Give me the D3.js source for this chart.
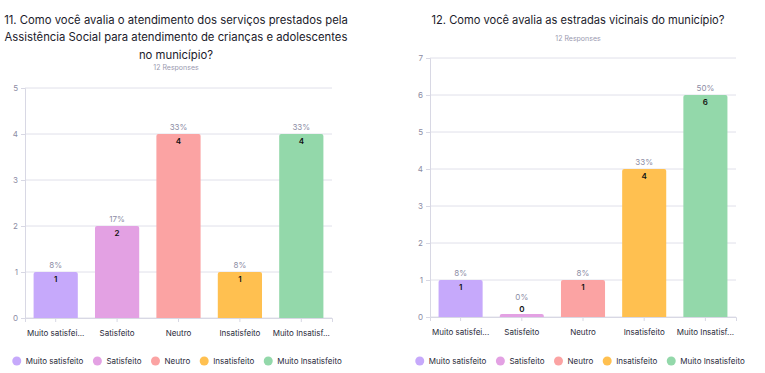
<!DOCTYPE html>
<html>
<head>
<meta charset="utf-8">
<script src="https://cdn.jsdelivr.net/npm/d3@7"></script>
<style>
  body { margin: 0; background: #fff; }
  text { font-family: Inter, "Noto Sans", sans-serif; }
</style>
</head>
<body>
<div id="chartDiv"></div>
<script>
// data
var categories = ["Muito satisfeito", "Satisfeito", "Neutro", "Insatisfeito", "Muito Insatisfeito"];
var shortLabels = ["Muito satisfei...", "Satisfeito", "Neutro", "Insatisfeito", "Muito Insatisf..."];
var colorsList = ["#c6a9fb", "#e3a1e3", "#fba3a3", "#ffc050", "#93d8aa"];

var title1 = ["11. Como você avalia o atendimento dos serviços prestados pela",
              "Assistência Social para atendimento de crianças e adolescentes",
              "no município?"];
var values1 = [1, 2, 4, 1, 4];
var percents1 = ["8%", "17%", "33%", "8%", "33%"];
var yTicks1 = [0, 1, 2, 3, 4, 5];

var title2 = ["12. Como você avalia as estradas vicinais do município?"];
var values2 = [1, 0, 1, 4, 6];
var percents2 = ["8%", "0%", "8%", "33%", "50%"];
var yTicks2 = [0, 1, 2, 3, 4, 5, 6, 7];

var responses = "12 Responses";

var svg = d3.select("#chartDiv").append("svg")
    .attr("width", 765)
    .attr("height", 373);

function drawChart(opt) {
  var g = svg.append("g").attr("class", "panel");

  // title, shrunk to the width seen in the picture
  var titles = g.selectAll(".title").data(opt.title).enter()
    .append("text").attr("class", "title")
    .attr("x", opt.cx)
    .attr("y", function(d, i){ return opt.titleY + i * 17.5; })
    .attr("text-anchor", "middle")
    .attr("dy", "0.35em")
    .style("font-size", "12px")
    .style("fill", "#1b1b2b")
    .text(function(d){ return d; });
  var widest = d3.max(titles.nodes(), function(n){ return n.getComputedTextLength(); });
  titles.style("font-size", (12 * opt.titleW / widest) + "px");

  g.append("text")
    .attr("x", opt.cx)
    .attr("y", opt.respY)
    .attr("text-anchor", "middle")
    .attr("dy", "0.35em")
    .style("font-size", "7px")
    .style("fill", "#9a9ab0")
    .text(responses);

  var x = d3.scaleBand()
    .domain(categories)
    .range([opt.left, opt.right])
    .paddingInner(0.28)
    .paddingOuter(0.14);

  var y = d3.scaleLinear()
    .domain([0, d3.max(opt.ticks)])
    .range([opt.bottom, opt.top]);

  // grid
  g.append("g").selectAll("line").data(opt.ticks).enter()
    .append("line")
    .attr("x1", opt.left).attr("x2", opt.right)
    .attr("y1", function(d){ return y(d); })
    .attr("y2", function(d){ return y(d); })
    .style("stroke", "#e0e0ea")
    .style("stroke-width", 1);

  // y axis
  var yAxis = g.append("g")
    .attr("transform", "translate(" + opt.left + ",0)")
    .call(d3.axisLeft(y).tickValues(opt.ticks).tickFormat(d3.format("d")).tickSize(4).tickPadding(3));
  yAxis.select(".domain").style("stroke", "#d8d8e4");
  yAxis.selectAll(".tick line").style("stroke", "#d8d8e4");
  yAxis.selectAll(".tick text").style("font-size", "8px").style("fill", "#8c8ca4")
    .style("font-family", "Inter, sans-serif");

  // x axis
  var xAxis = g.append("g")
    .attr("transform", "translate(0," + opt.bottom + ")")
    .call(d3.axisBottom(x).tickSize(4).tickPadding(8).tickFormat(function(d, i){ return shortLabels[i]; }));
  xAxis.select(".domain").style("stroke", "#d8d8e4");
  xAxis.selectAll(".tick line").style("stroke", "#d8d8e4");
  xAxis.selectAll(".tick text").style("font-size", "8px").style("fill", "#2a2a3a")
    .style("font-family", "Inter, sans-serif");

  // bars
  var bars = g.append("g").selectAll(".bar").data(opt.values).enter();
  bars.append("path")
    .attr("class", "bar")
    .attr("d", function(d, i){
      var x0 = x(categories[i]), w = x.bandwidth();
      var y0 = Math.min(y(d), opt.bottom - 3), r = 2;
      return "M" + x0 + "," + opt.bottom +
        "V" + (y0 + r) + "Q" + x0 + "," + y0 + " " + (x0 + r) + "," + y0 +
        "H" + (x0 + w - r) + "Q" + (x0 + w) + "," + y0 + " " + (x0 + w) + "," + (y0 + r) +
        "V" + opt.bottom + "Z";
    })
    .attr("fill", function(d, i){ return colorsList[i]; });

  // percent labels
  bars.append("text")
    .attr("x", function(d, i){ return x(categories[i]) + x.bandwidth() / 2; })
    .attr("y", function(d){ return d === 0 ? y(d) - 20 : y(d) - 7; })
    .attr("text-anchor", "middle")
    .attr("dy", "0.35em")
    .style("font-size", "8px")
    .style("fill", "#8c8ca4")
    .text(function(d, i){ return opt.percents[i]; });

  // count labels
  bars.append("text")
    .attr("x", function(d, i){ return x(categories[i]) + x.bandwidth() / 2; })
    .attr("y", function(d){ return d === 0 ? y(d) - 8 : y(d) + 7.5; })
    .attr("text-anchor", "middle")
    .attr("dy", "0.35em")
    .style("font-size", "8px")
    .style("font-weight", "600")
    .style("fill", "#111")
    .text(function(d){ return d; });

  // legend
  var leg = g.append("g").attr("class", "legend");
  var items = leg.selectAll(".item").data(categories).enter()
    .append("g").attr("class", "item");
  items.append("circle").attr("r", 4.5).attr("cx", 0).attr("cy", opt.legY)
    .attr("fill", function(d, i){ return colorsList[i]; });
  items.append("text").attr("x", 9).attr("y", opt.legY).attr("dy", "0.35em")
    .style("font-size", "8px").style("fill", "#2a2a3a")
    .text(function(d){ return d; });
  var pos = 0;
  items.each(function(){
    var tw = d3.select(this).select("text").node().getComputedTextLength();
    d3.select(this).attr("transform", "translate(" + pos + ",0)");
    pos += 9 + tw + 14;
  });
  var total = pos - 14 + 4.5;
  leg.attr("transform", "translate(" + (opt.legCx - total / 2 + 4.5) + ",0)");
}

drawChart({title: title1, values: values1, percents: percents1, ticks: yTicks1,
  cx: 176, titleY: 20, titleW: 344, respY: 68, left: 25, right: 332, top: 88, bottom: 318,
  legY: 361, legCx: 177});

drawChart({title: title2, values: values2, percents: percents2, ticks: yTicks2,
  cx: 578, titleY: 20, titleW: 293, respY: 38.5, left: 430, right: 736, top: 58, bottom: 317,
  legY: 361, legCx: 580});
</script>
</body>
</html>
